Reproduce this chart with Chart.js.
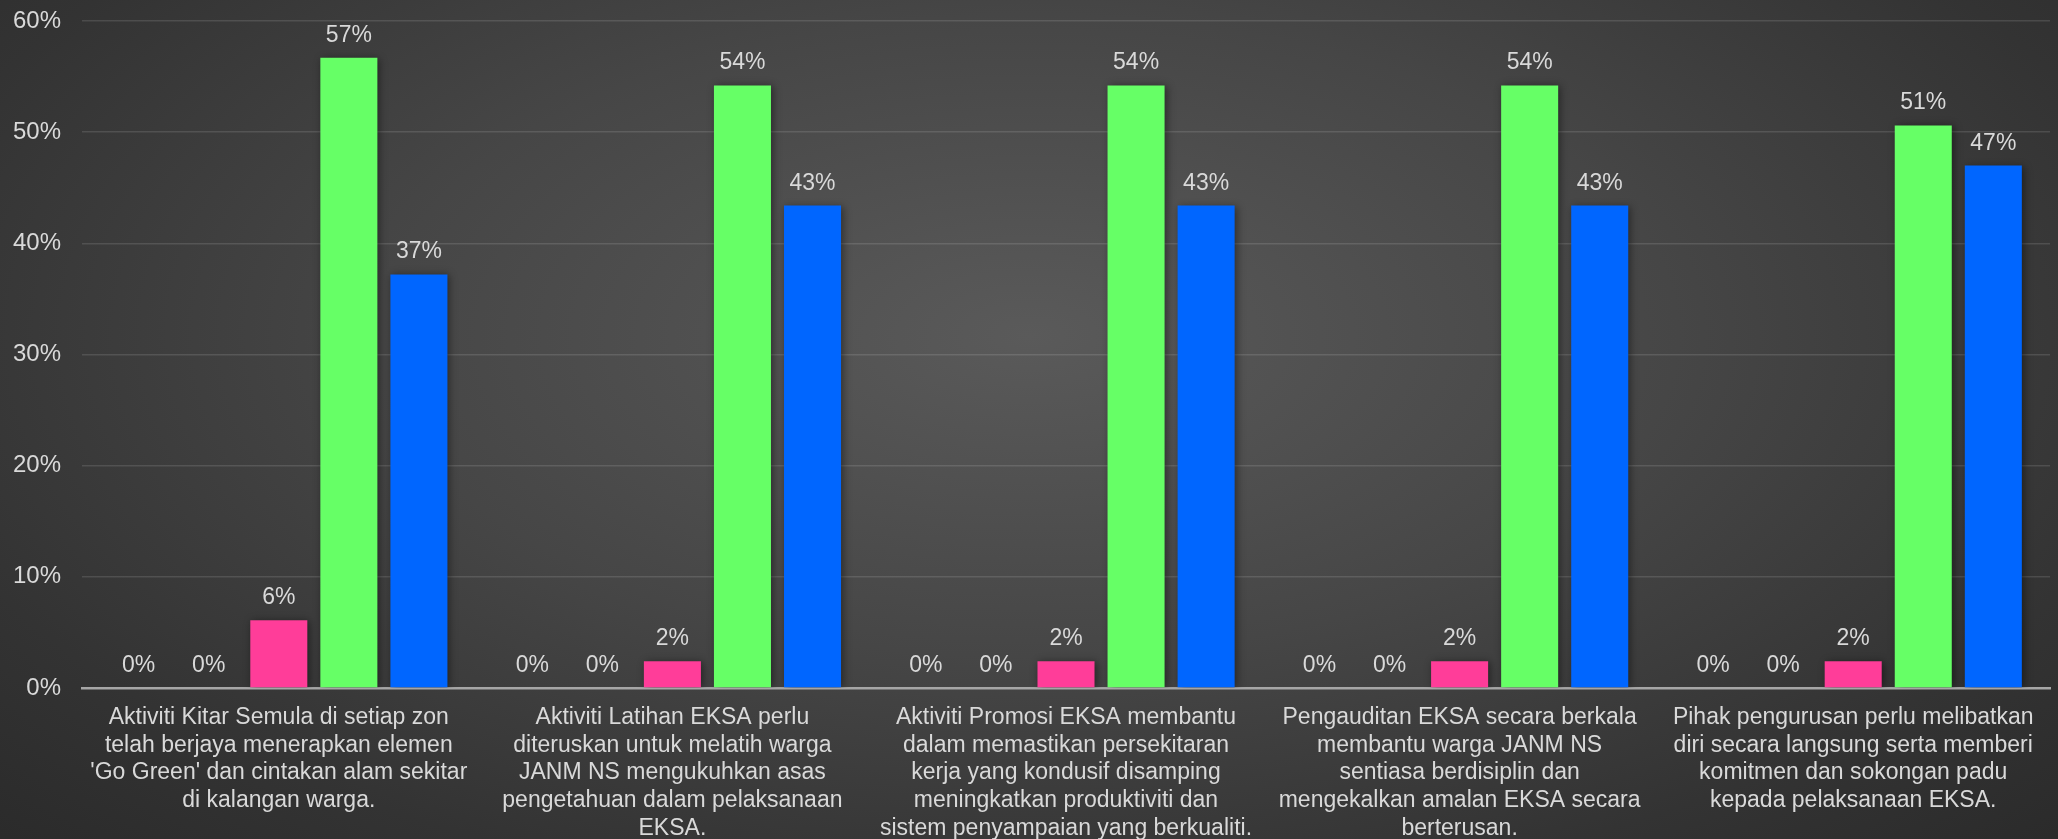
<!DOCTYPE html>
<html>
<head>
<meta charset="utf-8">
<script src="https://cdn.jsdelivr.net/npm/chart.js@4.4.1/dist/chart.umd.min.js"></script>
<style>
  html, body { margin: 0; padding: 0; }
  #wrap {
    width: 2058px;
    height: 839px;
    position: relative;
    background: radial-gradient(ellipse 70% 85% at 50% 40%, #5a5a5a 0%, #464646 45%, #333333 80%, #2b2b2b 100%);
  }
</style>
</head>
<body>
<div id="wrap"><canvas id="cchart"></canvas></div>
<script>
const categories = [
  ["Aktiviti Kitar Semula di setiap zon", "telah berjaya menerapkan elemen", "'Go Green' dan cintakan alam sekitar", "di kalangan warga."],
  ["Aktiviti Latihan EKSA perlu", "diteruskan untuk melatih warga", "JANM NS mengukuhkan asas", "pengetahuan dalam pelaksanaan", "EKSA."],
  ["Aktiviti Promosi EKSA membantu", "dalam memastikan persekitaran", "kerja yang kondusif disamping", "meningkatkan produktiviti dan", "sistem penyampaian yang berkualiti."],
  ["Pengauditan EKSA secara berkala", "membantu warga JANM NS", "sentiasa berdisiplin dan", "mengekalkan amalan EKSA secara", "berterusan."],
  ["Pihak pengurusan perlu melibatkan", "diri secara langsung serta memberi", "komitmen dan sokongan padu", "kepada pelaksanaan EKSA."],
];
const sangatTidakSetuju = [0, 0, 0, 0, 0];
const tidakSetuju = [0, 0, 0, 0, 0];
const kurangSetuju = [6.1, 2.4, 2.4, 2.4, 2.4];
const setuju = [56.7, 54.2, 54.2, 54.2, 50.6];
const sangatSetuju = [37.2, 43.4, 43.4, 43.4, 47.0];
const yTicks = [0, 10, 20, 30, 40, 50, 60];

const textColor = '#d9d9d9';
const fontFamily = "'Liberation Sans', Arial, sans-serif";

// shadow under the bars + value labels on top
const barExtras = {
  id: 'barExtras',
  beforeDatasetsDraw(chart) {
    const ctx = chart.ctx;
    ctx.save();
    ctx.shadowColor = 'rgba(0, 0, 0, 0.45)';
    ctx.shadowBlur = 8;
    ctx.shadowOffsetX = 2;
    ctx.shadowOffsetY = 1;
  },
  afterDatasetsDraw(chart) {
    const ctx = chart.ctx;
    ctx.restore();
    ctx.save();
    ctx.font = '23px ' + fontFamily;
    ctx.fillStyle = textColor;
    ctx.textAlign = 'center';
    ctx.textBaseline = 'alphabetic';
    chart.data.datasets.forEach((ds, i) => {
      const meta = chart.getDatasetMeta(i);
      meta.data.forEach((bar, j) => {
        ctx.fillText(Math.round(ds.data[j]) + '%', bar.x, bar.y - 16);
      });
    });
    ctx.restore();
  },
};

let chart = null;
let drawChart = () => {
  const ctx = document.getElementById('cchart');
  if (chart) chart.destroy();

  Chart.defaults.font.family = fontFamily;
  Chart.defaults.color = textColor;
  chart = new Chart(ctx, {
    type: 'bar',
    data: {
      labels: categories,
      datasets: [
        { label: 'Sangat Tidak Setuju', data: sangatTidakSetuju, backgroundColor: '#c00000' },
        { label: 'Tidak Setuju', data: tidakSetuju, backgroundColor: '#ffc000' },
        { label: 'Kurang Setuju', data: kurangSetuju, backgroundColor: '#ff3d99' },
        { label: 'Setuju', data: setuju, backgroundColor: '#66ff66' },
        { label: 'Sangat Setuju', data: sangatSetuju, backgroundColor: '#0066ff' },
      ],
    },
    options: {
      animation: false,
      responsive: true,
      maintainAspectRatio: false,
      barPercentage: 0.814,
      categoryPercentage: 0.89,
      layout: { padding: { top: 21, right: 8, bottom: 0, left: 0 } },
      plugins: {
        legend: { display: false },
        tooltip: { enabled: false },
      },
      scales: {
        x: {
          grid: { display: false, drawTicks: false },
          border: { color: '#a6a6a6', width: 2.5 },
          ticks: {
            color: textColor,
            font: { size: 23, lineHeight: 1.2 },
            padding: 16,
            maxRotation: 0,
            autoSkip: false,
          },
          afterFit: (scale) => { scale.height = 151; },
        },
        y: {
          min: 0,
          max: 60,
          afterBuildTicks: (scale) => { scale.ticks = yTicks.map((v) => ({ value: v })); },
          grid: {
            color: 'rgba(255, 255, 255, 0.12)',
            lineWidth: 1.5,
            drawTicks: true,
            tickLength: 21,
            tickColor: 'transparent',
          },
          border: { display: false },
          ticks: {
            color: textColor,
            font: { size: 24 },
            padding: 0,
            callback: (v) => v + '%',
          },
          afterFit: (scale) => { scale.width = 82; },
        },
      },
    },
    plugins: [barExtras],
  });
};

drawChart();
window.onresize = () => {
  drawChart();
};
</script>
</body>
</html>
